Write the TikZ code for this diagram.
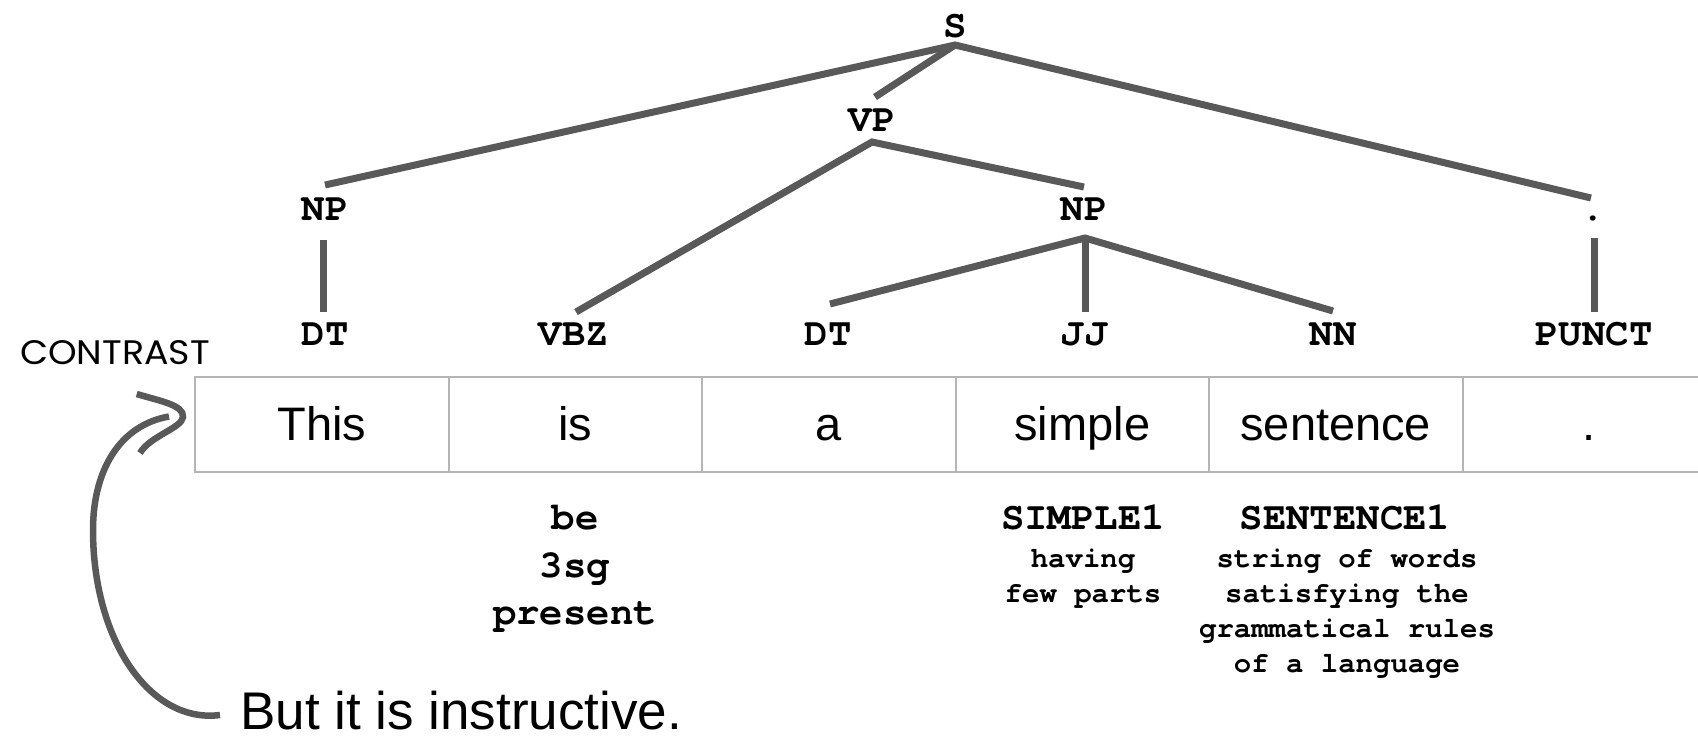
\documentclass[tikz,border=0pt]{standalone}
\usepackage{fontspec}
\usetikzlibrary{calc}
\newfontfamily\monofam{texgyrecursor}[Extension=.otf, UprightFont=*-regular, BoldFont=*-bold]
\newfontfamily\arialfam{Liberation Sans}
\newfontfamily\contrastfam{Poppins}
\definecolor{treegray}{HTML}{595959}
\definecolor{cellgray}{HTML}{B5B5B5}
\begin{document}
\begin{tikzpicture}[x=1pt,y=-1pt,
  tree/.style={font=\monofam\bfseries\fontsize{39pt}{39pt}\selectfont, inner sep=0pt, anchor=base},
  gloss/.style={font=\monofam\bfseries\fontsize{39pt}{39pt}\selectfont, inner sep=0pt, anchor=base},
  glosssmall/.style={font=\monofam\bfseries\fontsize{29pt}{29pt}\selectfont, inner sep=0pt, anchor=base},
  cell/.style={draw=cellgray, line width=2pt, minimum width=253.5pt, minimum height=95pt, inner sep=0pt,
    text height=35pt, text depth=4pt, font=\arialfam\fontsize{47pt}{47pt}\selectfont},
  branch/.style={draw=treegray, line width=7pt},
  handline/.style={draw=treegray, line width=6.5pt},
  ]
\useasboundingbox (0,0) rectangle (1698,737);
\clip (0,0) rectangle (1698,737);

% token cells
\node[cell] (c1) at (321.75,424.5) {This};
\node[cell] (c2) at (575.25,424.5) {is};
\node[cell] (c3) at (828.75,424.5) {a};
\node[cell] (c4) at (1082.25,424.5) {simple};
\node[cell] (c5) at (1335.75,424.5) {sentence};
\node[cell] (c6) at (1589.25,424.5) {.};

% tree labels
\node[tree] (S) at (955,37) {S};
\node[tree] (VP) at (872,131) {VP};
\node[tree] (NPa) at (325,220) {NP};
\node[tree] (NPb) at (1084,220) {NP};
\node[tree] (DOT) at (1593,220) {.};
\node[tree] (DTa) at (325,345) {DT};
\node[tree] (VBZ) at (574,345) {VBZ};
\node[tree] (DTb) at (828,345) {DT};
\node[tree] (JJ) at (1084,345) {JJ};
\node[tree] (NN) at (1333,345) {NN};
\node[tree] (PUNCT) at (1594,345) {PUNCT};

% branches
\draw[branch] ($(NPa.base)+(0,-35)$) -- ($(S.base)+(0,8)$) -- ($(DOT.base)+(-2,-22)$);
\draw[branch] ($(S.base)+(0,8)$) -- ($(VP.base)+(3,-34)$);
\draw[branch] ($(VBZ.base)+(2,-33)$) -- ($(VP.base)+(0,11)$) -- ($(NPb.base)+(0,-33)$);
\draw[branch] ($(NPa.base)+(-2,20)$) -- ($(DTa.base)+(-2,-33)$);
\draw[branch] ($(DTb.base)+(2,-41)$) -- ($(NPb.base)+(1,18)$) -- ($(NN.base)+(0,-34)$);
\draw[branch] ($(NPb.base)+(1,18)$) -- ($(JJ.base)+(1,-33)$);
\draw[branch] ($(DOT.base)+(1,18)$) -- ($(PUNCT.base)+(0,-33)$);

% glosses
\node[gloss] (be) at (575,529) {be};
\node[gloss] (sg) at (575,577) {3sg};
\node[gloss] (pres) at (575,624) {present};
\node[gloss] (simp) at (1083,529) {SIMPLE1};
\node[glosssmall] (simpa) at (1083,567) {having};
\node[glosssmall] (simpb) at (1083,602) {few parts};
\node[gloss] (sent) at (1345,529) {SENTENCE1};
\node[glosssmall] (senta) at (1347,567) {string of words};
\node[glosssmall] (sentb) at (1347,602) {satisfying the};
\node[glosssmall] (sentc) at (1347,637) {grammatical rules};
\node[glosssmall] (sentd) at (1347,672) {of a language};

% discourse relation
\node[font=\contrastfam\fontsize{34pt}{34pt}\selectfont, inner sep=0pt, anchor=base west] (contrast) at (20,364) {\scalebox{1.07}[1]{CONTRAST}};
\node[font=\arialfam\fontsize{53pt}{53pt}\selectfont, inner sep=0pt, anchor=base west] (but) at (240,729) {But it is instructive.};

\coordinate (tip) at ($(c1.west)+(-25,-8)$);
\coordinate (tail) at ($(but.base west)+(-20,-14)$);
\draw[handline] (tail) .. controls (150,724) and (93,640) .. (93,530)
  .. controls (93,470) and (120,425) .. (tip);
\draw[handline] (136.7,394) .. controls (160,401) and (184,405) .. (183,417)
  .. controls (182,428) and (150,436) .. (140,453);
\end{tikzpicture}
\end{document}
